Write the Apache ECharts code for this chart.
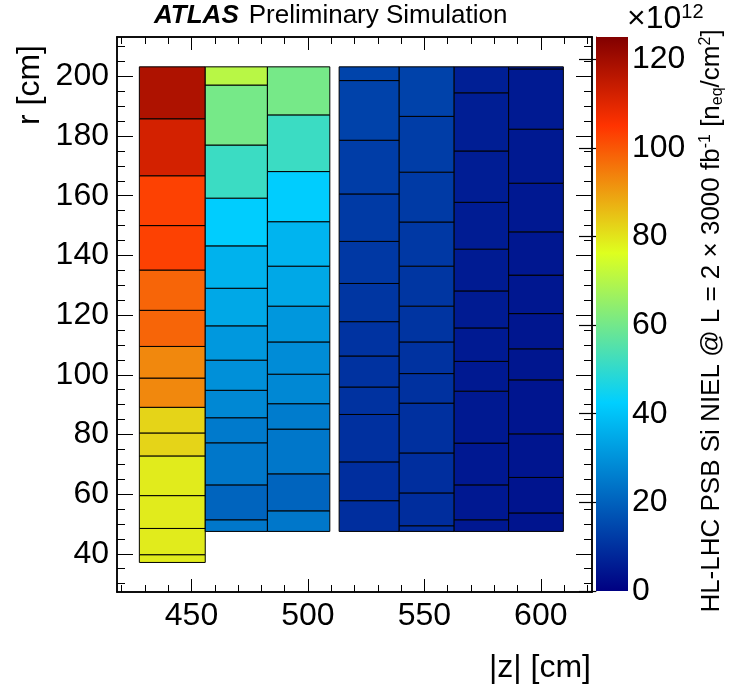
<!DOCTYPE html>
<html>
<head>
<meta charset="utf-8">
<script src="https://cdn.jsdelivr.net/npm/echarts@6/dist/echarts.min.js"></script>
<style>
  html, body { margin: 0; padding: 0; background: #fff; }
  #chart { width: 734px; height: 691px; }
</style>
</head>
<body>
<div id="chart"></div>
<script>
// column edges in |z| [cm]
const zLo = [427.6, 455.9, 482.6, 513.4, 539.2, 562.8, 586.2];
const zHi = [455.9, 482.6, 509.4, 539.2, 562.8, 586.2, 609.7];

// r edges per column, bottom -> top [cm]
const rEdges = [
  [37.1, 39.7, 48.5, 59.5, 72.8, 80.5, 89.1, 98.9, 109.5, 121.6, 135.1, 150.0, 166.7, 185.8, 203.2],
  [47.5, 51.4, 63.1, 77.2, 85.6, 94.8, 104.9, 116.4, 129.0, 143.2, 159.2, 177.0, 197.1, 203.2],
  [47.5, 54.4, 66.8, 81.8, 90.3, 100.2, 111.0, 123.0, 136.4, 151.3, 168.1, 187.1, 203.2],
  [47.5, 57.8, 70.8, 86.7, 95.9, 106.3, 117.8, 130.6, 144.7, 160.6, 178.6, 198.6, 203.2],
  [47.5, 49.4, 60.4, 73.8, 90.5, 100.4, 111.0, 123.0, 136.4, 151.2, 167.9, 186.6, 203.2],
  [47.5, 51.4, 63.1, 77.1, 94.5, 104.5, 115.7, 128.1, 142.1, 157.8, 175.0, 194.5, 203.2],
  [47.5, 53.7, 65.6, 80.2, 98.3, 108.7, 120.5, 133.4, 147.9, 164.2, 182.3, 202.5, 203.2]
];

// NIEL fluence per cell, bottom -> top [x1e12 neq/cm2]
const niel = [
  [79, 79, 79, 79, 82.3, 82.3, 93, 93, 98, 98, 103, 103, 112, 118],
  [24.5, 20.5, 24.5, 25, 28, 29.6, 31.2, 34.5, 36.5, 42, 51.5, 60.5, 70.5],
  [24.5, 20.5, 24.5, 25.5, 28, 28.8, 31, 34.5, 37, 42, 51.5, 60.5],
  [9.5, 9.5, 9.8, 10.2, 10.2, 10.5, 11, 11.5, 12, 12.5, 13.5, 14],
  [9.2, 9.2, 9.5, 9.8, 10, 10.3, 10.7, 11, 11.5, 12, 12.5, 13.5],
  [5, 5, 5, 5.2, 5.2, 5.4, 5.5, 5.6, 5.8, 6, 6.2, 6.4],
  [4.2, 4.2, 4.3, 4.4, 4.5, 4.6, 4.7, 4.8, 5, 5.1, 5.3, 5.3]
];

const xMajor = [450, 500, 550, 600];
const xMinor = [420, 430, 440, 450, 460, 470, 480, 490, 500, 510, 520, 530, 540, 550, 560, 570, 580, 590, 600, 610, 620];
const yMajor = [40, 60, 80, 100, 120, 140, 160, 180, 200];
const yMinor = [30, 35, 40, 45, 50, 55, 60, 65, 70, 75, 80, 85, 90, 95, 100, 105, 110, 115, 120, 125,
  130, 135, 140, 145, 150, 155, 160, 165, 170, 175, 180, 185, 190, 195, 200, 205, 210];
const zMin = 0, zMax = 125;

// ROOT-style 5 stop rainbow palette
const palStops = [0, 0.34, 0.61, 0.84, 1];
const palColors = ['#000082', '#00cfff', '#deff1f', '#ff3300', '#820000'];

function hex2rgb(h) { return [1, 3, 5].map(i => parseInt(h.substr(i, 2), 16)); }
function palette(t) {
  let i = 0;
  while (i < palStops.length - 2 && t > palStops[i + 1]) i++;
  const f = (t - palStops[i]) / (palStops[i + 1] - palStops[i]);
  const a = hex2rgb(palColors[i]), b = hex2rgb(palColors[i + 1]);
  const c = a.map((v, k) => Math.round(v + (b[k] - v) * f));
  return 'rgb(' + c.join(',') + ')';
}
const vmColors = [];
for (let k = 0; k <= 250; k++) vmColors.push(palette(k / 250));

const cells = [];
zLo.forEach((z0, c) => {
  niel[c].forEach((v, j) => {
    cells.push([z0, zHi[c], rEdges[c][j], rEdges[c][j + 1], v]);
  });
});

const FONT = '"Liberation Sans", Arial, sans-serif';

function axisX(pos, ticks, len, labels) {
  return {
    gridIndex: 0, type: 'value', min: 418, max: 622, position: pos,
    axisLine: { show: true, onZero: false, lineStyle: { color: '#000', width: 1.5 } },
    axisTick: { show: true, inside: true, length: len, customValues: ticks, lineStyle: { color: '#000', width: 1 } },
    axisLabel: labels ? { show: true, customValues: ticks, fontFamily: FONT, fontSize: 32, color: '#000', margin: 8 } : { show: false },
    splitLine: { show: false }
  };
}
function axisY(pos, ticks, len, labels) {
  return {
    gridIndex: 0, type: 'value', min: 27.2, max: 213.2, position: pos,
    axisLine: { show: true, onZero: false, lineStyle: { color: '#000', width: 1.5 } },
    axisTick: { show: true, inside: true, length: len, customValues: ticks, lineStyle: { color: '#000', width: 1 } },
    axisLabel: labels ? { show: true, customValues: ticks, fontFamily: FONT, fontSize: 32, color: '#000', margin: 8 } : { show: false },
    splitLine: { show: false }
  };
}

const chart = echarts.init(document.getElementById('chart'));
chart.setOption({
  animation: false,
  backgroundColor: '#fff',
  grid: [
    { left: 117, top: 37, width: 475, height: 555 },
    { left: 596, top: 37, width: 32, height: 554 }
  ],
  xAxis: [
    axisX('bottom', xMajor, 13, true),
    axisX('bottom', xMinor, 7, false),
    axisX('top', xMajor, 13, false),
    axisX('top', xMinor, 7, false),
    { gridIndex: 1, type: 'value', min: 0, max: 1, show: false }
  ],
  yAxis: [
    axisY('left', yMajor, 16, true),
    axisY('left', yMinor, 8, false),
    axisY('right', yMajor, 16, false),
    axisY('right', yMinor, 8, false),
    {
      gridIndex: 1, type: 'value', min: zMin, max: zMax, position: 'right', interval: 20,
      axisLine: { show: true, lineStyle: { color: '#333', width: 1 } },
      axisTick: { show: true, inside: true, length: 17, lineStyle: { color: '#000', width: 1.2 } },
      axisLabel: { fontFamily: FONT, fontSize: 32, color: '#000', margin: 4 },
      splitLine: { show: false }
    }
  ],
  visualMap: {
    show: false, type: 'continuous', seriesIndex: 0, dimension: 4,
    min: zMin, max: zMax, inRange: { color: vmColors }
  },
  graphic: [
    {
      type: 'text', left: 154, top: 3,
      style: {
        text: '{a|ATLAS}   {b|Preliminary Simulation}',
        rich: {
          a: { fontFamily: FONT, fontSize: 26, fontWeight: 'bold', fontStyle: 'italic', fill: '#000' },
          b: { fontFamily: FONT, fontSize: 26, fill: '#000' }
        }
      }
    },
    {
      type: 'text', left: 627, top: 2,
      style: {
        text: '×10{s|12}',
        rich: {
          s: { fontFamily: FONT, fontSize: 20, verticalAlign: 'top', fill: '#000', padding: [0, 0, 14, 0] }
        },
        fontFamily: FONT, fontSize: 32, fill: '#000'
      }
    },
    {
      type: 'text', x: 30, y: 45, rotation: Math.PI / 2,
      style: { text: 'r [cm]', fontFamily: FONT, fontSize: 32, fill: '#000', align: 'right', verticalAlign: 'middle' }
    },
    {
      type: 'text', x: 591, y: 668,
      style: { text: '|z| [cm]', fontFamily: FONT, fontSize: 32, fill: '#000', align: 'right', verticalAlign: 'middle' }
    },
    {
      type: 'text', x: 712, y: 321, rotation: Math.PI / 2,
      style: {
        text: 'HL-LHC PSB Si NIEL @ L = 2 × 3000 fb{s|-1} [n{d|eq}/cm{s|2}]',
        fontFamily: FONT, fontSize: 26, fill: '#000', align: 'center', verticalAlign: 'middle',
        rich: {
          s: { fontFamily: FONT, fontSize: 16, verticalAlign: 'top', padding: [0, 0, 12, 0], fill: '#000' },
          d: { fontFamily: FONT, fontSize: 16, verticalAlign: 'bottom', padding: [10, 0, 0, 0], fill: '#000' }
        }
      }
    }
  ],
  series: [
    {
      type: 'custom', xAxisIndex: 0, yAxisIndex: 0, data: cells,
      encode: { x: [0, 1], y: [2, 3] },
      renderItem: function (params, api) {
        const p0 = api.coord([api.value(0), api.value(3)]);
        const p1 = api.coord([api.value(1), api.value(2)]);
        return {
          type: 'rect',
          shape: { x: p0[0], y: p0[1], width: p1[0] - p0[0], height: p1[1] - p0[1] },
          style: { fill: api.visual('color'), stroke: '#000', lineWidth: 1 }
        };
      }
    },
    {
      type: 'custom', xAxisIndex: 4, yAxisIndex: 4, data: [[zMin, zMax]],
      renderItem: function (params, api) {
        const p0 = api.coord([0, api.value(1)]);
        const p1 = api.coord([1, api.value(0)]);
        return {
          type: 'rect',
          shape: { x: p0[0], y: p0[1], width: p1[0] - p0[0], height: p1[1] - p0[1] },
          style: {
            fill: new echarts.graphic.LinearGradient(0, 1, 0, 0,
              palStops.map((s, i) => ({ offset: s, color: palColors[i] })))
          }
        };
      },
      z: 1
    }
  ]
});
</script>
</body>
</html>
